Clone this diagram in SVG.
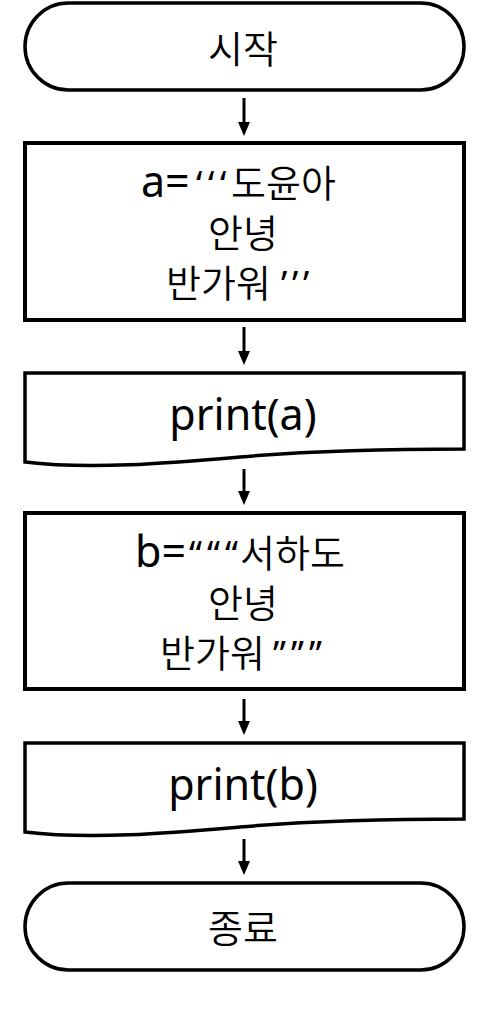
<svg xmlns="http://www.w3.org/2000/svg" width="485" height="1021" viewBox="0 0 485 1021">
<style>
.shape{fill:#fff;stroke:#000;stroke-width:3.5}
.box{fill:#fff;stroke:#000;stroke-width:4}
.conn{stroke:#000;stroke-width:3;fill:none}
.ko{font-family:"Noto Sans CJK KR","Noto Sans",sans-serif;font-size:38px;font-weight:350;fill:#000}
.la{font-family:"Noto Sans","Noto Sans CJK KR",sans-serif;font-size:43px;font-weight:400;fill:#000}
.q{font-family:"Noto Sans",sans-serif;font-size:36px;font-weight:400}
</style>
<defs>
<marker id="ah" markerUnits="userSpaceOnUse" markerWidth="14" markerHeight="12" refX="0" refY="6" orient="auto" viewBox="0 0 14 12">
<path d="M0,0 L14,6 L0,12 Z" fill="#000"/>
</marker>
</defs>
<rect width="485" height="1021" fill="#fff"/>
<g id="start">
<rect class="shape" x="25" y="3" width="439" height="87" rx="43.5" ry="43.5"/>
<text class="ko" x="243" y="63" text-anchor="middle">시작</text>
</g>
<g id="assign-a">
<rect class="box" x="25" y="143" width="439" height="177"/>
<text class="la" y="197"><tspan x="141">a=</tspan><tspan class="q" x="196 208 220">‘‘‘</tspan><tspan class="ko" x="231">도윤아</tspan></text>
<text class="ko" x="243" y="247" text-anchor="middle">안녕</text>
<text class="ko" y="297"><tspan x="166">반가워</tspan><tspan class="q" x="281 292 303">’’’</tspan></text>
</g>
<g id="print-a">
<path class="shape" d="M25,373 H464 V449 C380,449 310,451 240,457 S90,470 25,462 Z"/>
<text class="la" x="243" y="430" text-anchor="middle">print(a)</text>
</g>
<g id="assign-b">
<rect class="box" x="25" y="513" width="439" height="176"/>
<text class="la" y="567"><tspan x="135">b=</tspan><tspan class="q" x="189 207 225">“““</tspan><tspan class="ko" x="240">서하도</tspan></text>
<text class="ko" x="243" y="617" text-anchor="middle">안녕</text>
<text class="ko" y="667"><tspan x="160">반가워</tspan><tspan class="q" x="273 291 309">”””</tspan></text>
</g>
<g id="print-b">
<path class="shape" d="M25,743 H464 V819 C380,819 310,821 240,827 S90,840 25,832 Z"/>
<text class="la" x="243" y="800" text-anchor="middle">print(b)</text>
</g>
<g id="end">
<rect class="shape" x="25" y="883" width="439" height="87" rx="43.5" ry="43.5"/>
<text class="ko" x="243" y="942" text-anchor="middle">종료</text>
</g>
<g id="connectors">
<line class="conn" x1="244" y1="98" x2="244" y2="122" marker-end="url(#ah)"/>
<line class="conn" x1="244" y1="327" x2="244" y2="351" marker-end="url(#ah)"/>
<line class="conn" x1="244" y1="469" x2="244" y2="491" marker-end="url(#ah)"/>
<line class="conn" x1="244" y1="699" x2="244" y2="721" marker-end="url(#ah)"/>
<line class="conn" x1="244" y1="839" x2="244" y2="861" marker-end="url(#ah)"/>
</g>
</svg>
